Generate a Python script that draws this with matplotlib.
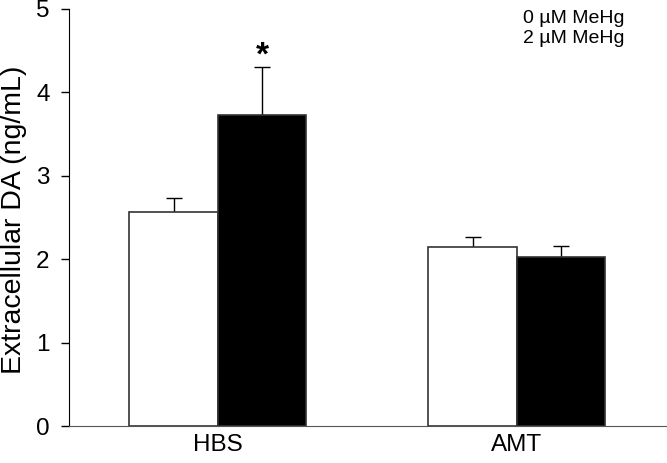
import numpy as np
import matplotlib.pyplot as plt

groups = ["HBS", "AMT"]
ctrl = [2.57, 2.15]
ctrl_err = [0.16, 0.12]
mehg = [3.73, 2.03]
mehg_err = [0.58, 0.13]
labels = ["0 \u00b5M MeHg", "2 \u00b5M MeHg"]

plt.rcParams['font.family'] = ['Liberation Sans', 'DejaVu Sans']

fig = plt.figure(figsize=(6.67, 4.63), dpi=100)
ax = fig.add_axes([0.1034, 0.0799, 0.8966, 0.9007])

x = np.arange(len(groups))
w = 0.296
ax.bar(x - w/2, ctrl, w, color="white", edgecolor="#333333", linewidth=1.2, zorder=3)
ax.bar(x + w/2, mehg, w, color="black", edgecolor="#333333", linewidth=1.2, zorder=3)
# error bars behind the bars so only the upper half shows
ax.errorbar(x - w/2, ctrl, yerr=ctrl_err, fmt="none", ecolor="black", elinewidth=1, capsize=6, zorder=2)
ax.errorbar(x + w/2, mehg, yerr=mehg_err, fmt="none", ecolor="black", elinewidth=1, capsize=6, zorder=2)

ax.text(x[0] + w/2, mehg[0] + mehg_err[0] + 0.12, "*", ha="center", va="center", fontsize=24, fontweight="bold")

ax.text(0.760, 0.997, labels[0] + "\n" + labels[1], transform=ax.transAxes,
        ha="left", va="top", fontsize=14, linespacing=1.25)

ax.set_xlim(-0.498, 1.502)
ax.set_ylim(0, 5)
ax.set_xticks(x)
ax.set_xticklabels(groups, fontsize=17.5)
ax.tick_params(axis="x", length=0, pad=6)
ax.tick_params(axis="y", labelsize=17.5, length=6, width=1, pad=8)
ax.set_yticks([0, 1, 2, 3, 4, 5])
fig.text(0.021, 0.526, "Extracellular DA (ng/mL)", rotation=90, ha="center", va="center", fontsize=20.5)
ax.spines["top"].set_visible(False)
ax.spines["right"].set_visible(False)
ax.spines["bottom"].set_color("#555555")

fig.savefig("out.png", dpi=100)
